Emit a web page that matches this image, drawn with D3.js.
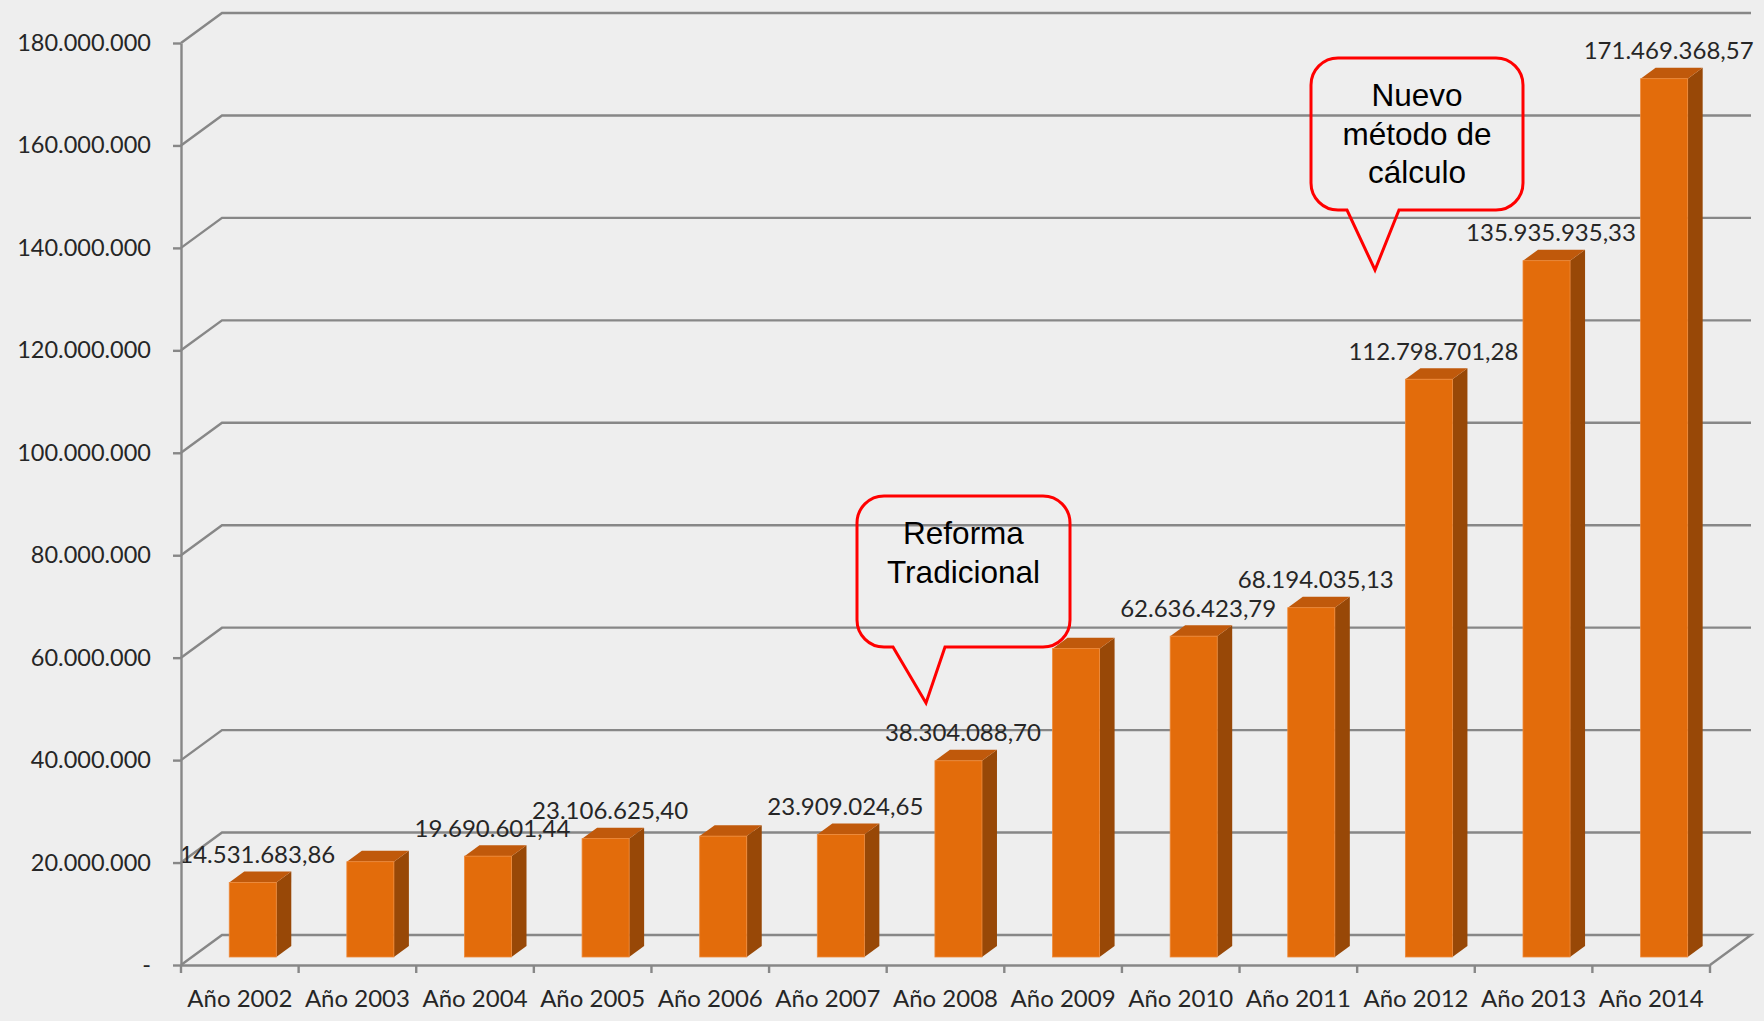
<!DOCTYPE html>
<html lang="es">
<head>
<meta charset="utf-8">
<script src="https://cdn.jsdelivr.net/npm/d3@7"></script>
<style>
  html, body { margin: 0; padding: 0; background: #eeeeee; }
  svg { display: block; }
</style>
</head>
<body>
<svg id="chart" width="1764" height="1021"></svg>
<script>
// Recaudación anual, 2002–2014
const categories = ["Año 2002", "Año 2003", "Año 2004", "Año 2005", "Año 2006", "Año 2007",
  "Año 2008", "Año 2009", "Año 2010", "Año 2011", "Año 2012", "Año 2013", "Año 2014"];
const values = [14531683.86, 18600000, 19690601.44, 23106625.40, 23600000, 23909024.65,
  38304088.70, 60200000, 62636423.79, 68194035.13, 112798701.28, 135935935.33, 171469368.57];
// which bars carry a data label
const labeled = [true, false, true, true, false, true, true, false, true, true, true, true, true];

const yTicks = [0, 20e6, 40e6, 60e6, 80e6, 100e6, 120e6, 140e6, 160e6, 180e6];
const yTickLabels = ["-", "20.000.000", "40.000.000", "60.000.000", "80.000.000", "100.000.000",
  "120.000.000", "140.000.000", "160.000.000", "180.000.000"];

// callouts: text lines, box and pointer tip
const callouts = [
  { lines: ["Reforma", "Tradicional"], box: [857, 496, 1070, 647], tail: [893, 945], tip: [926, 703], baseline: 544 },
  { lines: ["Nuevo", "método de", "cálculo"], box: [1311, 58, 1523, 210], tail: [1347, 1399], tip: [1375, 270], baseline: 106 }
];

const es = d3.formatLocale({ decimal: ",", thousands: ".", grouping: [3], currency: ["", ""] });
const fmtValue = es.format(",.2f");

const svg = d3.select("#chart");
const gridColor = "#878787";
const gridWidth = 2.4;
const depth = { dx: 41, dy: -30 };     // full floor depth
const barFront = 0.267, barBack = 0.633; // bar position inside the depth
const barShift = 2;

const x = d3.scaleBand().domain(categories).range([181, 1710]).paddingInner(0.6).paddingOuter(0.3);
const y = d3.scaleLinear().domain([0, 180e6]).range([965, 43]);
const xLeft = x.range()[0], xRight = x.range()[1];

// back wall gridlines (each leaves the axis diagonally, then runs along the back wall)
const grid = svg.append("g").attr("fill", "none").attr("stroke", gridColor).attr("stroke-width", gridWidth);
yTicks.forEach(t => {
  if (t === 0) return;
  grid.append("path").attr("d", d3.line()([
    [xLeft, y(t)], [xLeft + depth.dx, y(t) + depth.dy], [xRight + depth.dx, y(t) + depth.dy]
  ]));
});
// floor
grid.append("path").attr("d", d3.line()([
  [xLeft, y(0)], [xLeft + depth.dx, y(0) + depth.dy], [xRight + depth.dx, y(0) + depth.dy], [xRight, y(0)]
]));

// 3D bars
const fx = depth.dx * barFront + barShift, fy = depth.dy * barFront;
const sx = depth.dx * (barBack - barFront), sy = depth.dy * (barBack - barFront);
const bw = x.bandwidth();
const bars = svg.append("g");
categories.forEach((c, i) => {
  const x0 = x(c) + fx, x1 = x0 + bw;
  const yb = y(0) + fy, yt = y(values[i]) + fy;
  const g = bars.append("g");
  g.append("polygon").attr("fill", "#984807")
    .attr("points", [[x1, yt], [x1 + sx, yt + sy], [x1 + sx, yb + sy], [x1, yb]].join(" "));
  g.append("polygon").attr("fill", "#c0590b")
    .attr("points", [[x0, yt], [x0 + sx, yt + sy], [x1 + sx, yt + sy], [x1, yt]].join(" "));
  g.append("rect").attr("fill", "#e36c0b").attr("stroke", "#ef8a3a").attr("stroke-width", 0.8)
    .attr("x", x0).attr("y", yt).attr("width", bw).attr("height", yb - yt);
});

// data labels
svg.append("g")
  .attr("font-family", "Lato, 'Open Sans', sans-serif").attr("font-size", 24).attr("fill", "#262626")
  .attr("text-anchor", "middle")
  .selectAll("text").data(categories.filter((c, i) => labeled[i]))
  .join("text")
  .attr("x", c => x(c) + fx + bw / 2 + sx / 2 - 3)
  .attr("y", c => y(values[categories.indexOf(c)]) + fy - 28)
  .attr("dy", "0.36em")
  .text(c => fmtValue(values[categories.indexOf(c)]));

// y axis
const yAxis = svg.append("g").attr("transform", `translate(${xLeft},0)`)
  .call(d3.axisLeft(y).tickValues(yTicks).tickFormat((d, i) => yTickLabels[i])
    .tickSize(8).tickSizeOuter(0).tickPadding(22));
yAxis.select(".domain").attr("stroke", gridColor).attr("stroke-width", gridWidth);
yAxis.selectAll(".tick line").attr("stroke", gridColor).attr("stroke-width", gridWidth);
yAxis.selectAll(".tick text").attr("font-family", "Lato, 'Open Sans', sans-serif")
  .attr("font-size", 23.5).attr("fill", "#262626");

// x axis
const xAxis = svg.append("g").attr("transform", `translate(0,${y(0)})`)
  .call(d3.axisBottom(x).tickSize(0).tickPadding(25));
xAxis.select(".domain").attr("stroke", gridColor).attr("stroke-width", gridWidth);
xAxis.selectAll(".tick text").attr("font-family", "Lato, 'Open Sans', sans-serif")
  .attr("font-size", 24).attr("fill", "#262626");
// category boundary ticks
const step = x.step();
xAxis.append("g").selectAll("line").data(d3.range(categories.length + 1)).join("line")
  .attr("x1", i => xLeft + i * step).attr("x2", i => xLeft + i * step)
  .attr("y1", 0).attr("y2", 8).attr("stroke", gridColor).attr("stroke-width", gridWidth);

// callouts
function calloutPath(c) {
  const [l, t, r, b] = c.box, rad = 27;
  const p = d3.path();
  p.moveTo(l + rad, t);
  p.lineTo(r - rad, t);
  p.arcTo(r, t, r, t + rad, rad);
  p.lineTo(r, b - rad);
  p.arcTo(r, b, r - rad, b, rad);
  p.lineTo(c.tail[1], b);
  p.lineTo(c.tip[0], c.tip[1]);
  p.lineTo(c.tail[0], b);
  p.lineTo(l + rad, b);
  p.arcTo(l, b, l, b - rad, rad);
  p.lineTo(l, t + rad);
  p.arcTo(l, t, l + rad, t, rad);
  p.closePath();
  return p.toString();
}
const co = svg.append("g");
callouts.forEach(c => {
  co.append("path").attr("d", calloutPath(c)).attr("fill", "none")
    .attr("stroke", "#ff0000").attr("stroke-width", 3).attr("stroke-linejoin", "miter");
  const cx = (c.box[0] + c.box[2]) / 2;
  co.append("text").attr("font-family", "'Liberation Sans', Arial, sans-serif")
    .attr("font-size", 31.5).attr("fill", "#000").attr("text-anchor", "middle")
    .selectAll("tspan").data(c.lines).join("tspan")
    .attr("x", cx).attr("y", (d, i) => c.baseline + i * 38.7).text(d => d);
});
</script>
</body>
</html>
